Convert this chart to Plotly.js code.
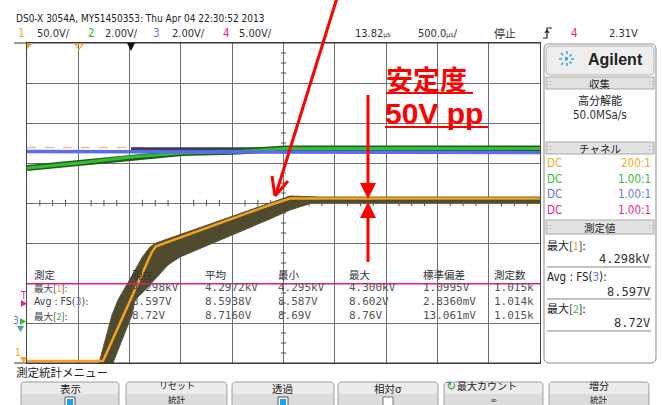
<!DOCTYPE html>
<html><head><meta charset="utf-8">
<script src="https://cdn.plot.ly/plotly-3.0.1.min.js"></script>
<style>html,body{margin:0;padding:0;background:#fff;overflow:hidden}#chart{width:662px;height:405px}</style>
</head><body><div id="chart"></div>
<script>
// ---------------- data (time in µs, vertical position in screen divisions) ----------------
const ch1TimeUs = [-2500, -1759, -1282, -1243, -132, 63, 2500];
const ch1Div    = [-3.95, -3.95, -1.22, -1.08, -0.05, 0.11, 0.11];

const envTimeUs = [-1798, -1672, -1613, -1545, -1369, -1301, -1243, 63, 350, 2500, 2500, 278, 63, -132, -1009, -1126, -1330, -1447, -1477, -1662];
const envDiv    = [-4.0, -2.8, -2.425, -2.125, -1.325, -1.1, -1.0, 0.175, 0.15, 0.15, 0.0, 0.0, -0.175, -0.4, -1.35, -1.55, -2.125, -2.425, -2.8, -4.0];

const ch2TimeUs = [-2500, -1993, -1486, -989, -492, -100, 15, 2500];
const ch2Div    = [0.875, 1.0, 1.15, 1.25, 1.28, 1.33, 1.36, 1.36];

const ch3TimeUs = [-2500, 2500];
const ch3Div    = [1.29, 1.26];
const ch3NoiseTimeUs = [-1486, 356];
const ch3NoiseDiv    = [1.33, 1.33];

const refTimeUs = [-2500, -1370];
const refDiv    = [1.39, 1.39];

const ch4TimeUs = [-2500, 2500];
const ch4Div    = [-2.02, -2.02];

const measHeaders = ["測定", "現在", "平均", "最小", "最大", "標準偏差", "測定数"];
const measLabels  = ["最大[<span style='color:#f5a623'>1</span>]:", "Avg : FS(<span style='color:#6677ee'>3</span>):", "最大[<span style='color:#33bb33'>2</span>]:"];
const measRows = [
  ["4.298kV", "4.2972kV", "4.295kV", "4.300kV", "1.0995V", "1.015k"],
  ["8.597V", "8.5938V", "8.587V", "8.602V", "2.8360mV", "1.014k"],
  ["8.72V", "8.7160V", "8.69V", "8.76V", "13.061mV", "1.015k"]
];
const chanScales = [["1","50.0V/","#f5a623"],["2","2.00V/","#33bb33"],["3","2.00V/","#6677ee"],["4","5.00V/","#ee2288"]];
const probeRows = [["DC","200:1","#f5a623"],["DC","1.00:1","#33bb33"],["DC","1.00:1","#6677ee"],["DC","1.00:1","#ee2288"]];
const panelMeas = [["最大[<span style='color:#f5a623'>1</span>]:","4.298kV"],["Avg : FS(<span style='color:#6677ee'>3</span>):","8.597V"],["最大[<span style='color:#33bb33'>2</span>]:","8.72V"]];
const buttons = [["表示","box"],["<span style='font-size:9px'>リセット</span>","統計"],["透過","box"],["相対σ","empty"],["最大カウント","∞"],["増分","統計"]];

// ---------------- layout helpers ----------------
const L=27, R=540, T=43, B=363;
const fx = x => (x-L)/(R-L);
const fy = y => (B-y)/(B-T);
const conv = s => s.replace(/(-?[\d.]+),(-?[\d.]+)/g,(m,a,b)=>fx(+a).toFixed(5)+','+fy(+b).toFixed(5));
const FUI = "DejaVu Sans Condensed, Liberation Sans, sans-serif";
const FJP = "Noto Sans CJK JP, sans-serif";
const FMONO = "DejaVu Sans Mono, monospace";
const shapes=[], ann=[];
function line(x0,y0,x1,y1,color,width,dash){shapes.push({type:'line',xref:'paper',yref:'paper',x0:fx(x0),y0:fy(y0),x1:fx(x1),y1:fy(y1),line:{color:color,width:width,dash:dash||'solid'}});}
function poly(pts,fill,lc,lw){shapes.push({type:'path',xref:'paper',yref:'paper',path:conv(pts.map((p,i)=>(i?'L':'M')+p[0]+','+p[1]).join(' ')+' Z'),fillcolor:fill,line:{color:lc||fill,width:lw||0}});}
function rrect(x0,y0,x1,y1,r,fill,lc,lw){
  const p=`M${x0+r},${y0} L${x1-r},${y0} Q${x1},${y0} ${x1},${y0+r} L${x1},${y1-r} Q${x1},${y1} ${x1-r},${y1} L${x0+r},${y1} Q${x0},${y1} ${x0},${y1-r} L${x0},${y0+r} Q${x0},${y0} ${x0+r},${y0} Z`;
  shapes.push({type:'path',xref:'paper',yref:'paper',path:conv(p),fillcolor:fill,line:{color:lc,width:lw===undefined?1:lw}});
}
function rect(x0,y0,x1,y1,fill,lc,lw){shapes.push({type:'rect',xref:'paper',yref:'paper',x0:fx(x0),y0:fy(y0),x1:fx(x1),y1:fy(y1),fillcolor:fill,line:{color:lc||fill,width:lw||0}});}
function text(x,y,s,o){o=o||{};ann.push({xref:'paper',yref:'paper',x:fx(x),y:fy(y),text:s,showarrow:false,xanchor:o.a||'left',yanchor:o.ya||'middle',borderpad:0,
  font:{family:o.f||FUI,size:o.s||12,color:o.c||'#222'}});}

// ---------------- header ----------------
text(15,18,"DS0-X 3054A, MY51450353: Thu Apr 04 22:30:52 2013",{s:10,c:'#222'});
const scaleX=[[17,36],[87,104],[152,171],[222,238]];
chanScales.forEach((c,i)=>{text(scaleX[i][0],33,c[0],{s:11.5,c:c[2]});text(scaleX[i][1],33,c[1],{s:11,c:'#333'});});
text(354,33,"13.82<span style='font-size:7px'>µs</span>",{s:11,c:'#333'});
text(417,33,"500.0<span style='font-size:7px'>µs</span>/",{s:11,c:'#333'});
text(493,33,"停止",{s:11,f:FJP,c:'#333'});
shapes.push({type:'path',xref:'paper',yref:'paper',path:conv('M543,38 L547,38 L547,28 L552,28 M545,33 L547,30 L549,33'),line:{color:'#222',width:1.2}});
text(570,33,"4",{s:11.5,c:'#ee2288'});
text(608,33,"2.31V",{s:11,c:'#333'});
line(14,43,540,43,'#333',1);
line(14,363,540,363,'#333',1);

// top markers
poly([[27,43],[33,43],[27,49]],'#f59a20');
shapes.push({type:'path',xref:'paper',yref:'paper',path:conv('M75,44 L83,44 L79,49 Z'),fillcolor:'rgba(0,0,0,0)',line:{color:'#f59a20',width:1.2}});
poly([[127,43],[135,43],[131,51]],'#111');

// left markers
text(23,295,"T",{s:10,c:'#ee2288',a:'center'});
poly([[21,300],[21,307],[27,303.5]],'#ee2288');
text(16,320,"3",{s:10,c:'#6677ee',a:'center'});
poly([[20,318],[20,325],[26,321.5]],'#33bb33');
poly([[17,326],[24,326],[20.5,332]],'#4aa0a0');
text(18,352,"1",{s:10,c:'#f5a623',a:'center'});
poly([[20,357],[27,357],[23.5,363]],'#f5a623');

// minor ticks on centre lines
for(let t=-2375;t<=2375;t+=125){ if(t%500!==0) shapes.push({type:'line',xref:'x',yref:'y',layer:'between',x0:t,x1:t,y0:-0.08,y1:0.08,line:{color:'#555',width:1}}); }
for(let d=-3.75;d<=3.75;d+=0.25){ if(d%1!==0) shapes.push({type:'line',xref:'x',yref:'y',layer:'between',x0:-25,x1:25,y0:d,y1:d,line:{color:'#555',width:1}}); }

// measurement table overlay
const colX=[33,131,204,277,348,422,493];
measHeaders.forEach((h,i)=>text(colX[i],274,h,{f:FJP,s:10.5,c:'#333'}));
const rowY=[287.5,301,315.5];
measLabels.forEach((l,r)=>{text(33,rowY[r],l,{f:(r===1?FUI:FJP),s:(r===1?10.5:9.5),c:'#444'});
  measRows[r].forEach((v,i)=>text(colX[i+1],rowY[r],v,{f:FMONO,s:11,c:'#555'}));});

// ---------------- right panel ----------------
rrect(544,44,656,363,5,'#ffffff','#8c8c8c',1);
rrect(546,46,654,75,4,'#eeeeee','#b0b0b0',1);
line(559,59,575,59,'#38a8d8',1.5,'dot');line(567,51,567,67,'#38a8d8',1.5,'dot');
line(561,53,573,65,'#38a8d8',1.5,'dot');line(561,65,573,53,'#38a8d8',1.5,'dot');
text(587,59,"<b>Agilent</b>",{f:"Liberation Sans, Arial, sans-serif",s:16,c:'#222'});
function bar(y0,y1,label){rect(546,y0,654,y1,'#e2e2e2','#a8a8a8',1);text(600,(y0+y1)/2,label,{f:FJP,s:10.5,a:'center',c:'#222'});
  text(549,(y0+y1)/2,"∷",{s:8,c:'#999',a:'center'});text(651,(y0+y1)/2,"∷",{s:8,c:'#999',a:'center'});}
bar(77,89,"収集");
text(600,100,"高分解能",{f:FJP,s:11,a:'center'});
text(600,115,"50.0MSa/s",{s:11.5,a:'center',c:'#333'});
bar(142,154,"チャネル");
const probeY=[163,178.5,194,209.5];
probeRows.forEach((p,i)=>{text(546,probeY[i],p[0],{s:11.5,c:p[2]});text(652,probeY[i],p[1],{s:11.5,c:p[2],a:'right'});});
bar(220,234,"測定値");
const pmY=[[245,259,267],[277,292,299],[308,323,331]];
panelMeas.forEach((m,i)=>{text(546,pmY[i][0],m[0],{f:(i===1?FUI:FJP),s:(i===1?11.5:11),c:'#222'});text(651,pmY[i][1],m[1],{f:FMONO,s:12,c:'#333',a:'right'});line(547,pmY[i][2],651,pmY[i][2],'#888',1);});

// ---------------- bottom menu ----------------
text(15,372,"測定統計メニュー",{f:FJP,s:11.5,c:'#222'});
const btnX=[[21,119],[126,227],[232,334],[338,438],[444,543],[549,649]];
buttons.forEach((b,i)=>{const x0=btnX[i][0],x1=btnX[i][1],cx=(x0+x1)/2;
  const two = !(b[1]==='box'||b[1]==='empty');
  const ly = two ? 385.5 : 388, ls = two ? 10 : 10.5;
  rrect(x0,382,x1,414,4,'#dcdcdc','#a5a5a5',1);
  rect(x0+1,383,x1-1,394,'#ececec');
  if(i===4){text(451,ly,"↻",{s:12,c:'#2a9a2a',a:'center',f:"DejaVu Sans"});text(456,ly,b[0],{f:FJP,s:ls,c:'#222'});}
  else text(cx,ly,b[0],{f:FJP,s:ls,c:'#222',a:'center'});
  if(b[1]==='box'){rect(cx-5,397,cx+5,407,'#ffffff','#555',1);rect(cx-3,399,cx+3,407,'#1aa3e8');}
  else if(b[1]==='empty'){rect(cx-5,397,cx+5,407,'#ffffff','#777',1);}
  else text(cx,405.5,b[1],{f:(b[1]==='∞'?"DejaVu Sans":FJP),s:8.5,c:'#222',a:'center',ya:'bottom'});
});

// ---------------- red annotations ----------------
text(385,78,"<b>安定度</b>",{f:FJP,s:27,c:'#ff0000'});
line(386,93,473,93,'#ff0000',2);
text(384,113,"<b>50V pp</b>",{f:"Liberation Sans, Arial, sans-serif",s:30,c:'#ff0000'});
line(385,127,488,127,'#ff0000',2);
line(337,-2,276,194,'#ff0000',3);
line(275,196,288,181,'#ff0000',3);
line(275,196,272,176,'#ff0000',3);
line(368,95,368,186,'#ff0000',3);
poly([[360,183],[376,183],[368,199]],'#ff0000');
line(368,214,368,262,'#ff0000',3);
poly([[360,218],[376,218],[368,202]],'#ff0000');

// ---------------- traces ----------------
const traces=[
 {x:envTimeUs,y:envDiv,type:'scatter',mode:'lines',fill:'toself',fillcolor:'#4f4b2e',line:{color:'#5c583c',width:1},hoverinfo:'skip'},
 {x:refTimeUs,y:refDiv,type:'scatter',mode:'lines',line:{color:'#f2c08a',width:1.5,dash:'dash'}},
 {x:ch3NoiseTimeUs,y:ch3NoiseDiv,type:'scatter',mode:'lines',line:{color:'#3d3a62',width:5}},
 {x:ch2TimeUs,y:ch2Div,type:'scatter',mode:'lines',line:{color:'#225a22',width:6}},
 {x:ch2TimeUs,y:ch2Div,type:'scatter',mode:'lines',line:{color:'#2fc02f',width:3}},
 {x:ch3TimeUs,y:ch3Div,type:'scatter',mode:'lines',line:{color:'#5b6cf0',width:3.5}},
 {x:ch1TimeUs,y:ch1Div,type:'scatter',mode:'lines',line:{color:'#f7a01e',width:2.5}},
 {x:ch4TimeUs,y:ch4Div,type:'scatter',mode:'lines',line:{color:'#ef1682',width:1.5}}
];
const ax={showgrid:true,gridcolor:'#707070',gridwidth:1,zeroline:false,showticklabels:false,ticks:'',showline:true,mirror:true,linecolor:'#444',linewidth:1,fixedrange:true};
const layout={width:662,height:405,margin:{l:27,r:122,t:43,b:42,pad:0},paper_bgcolor:'#fff',plot_bgcolor:'#fff',showlegend:false,
  xaxis:Object.assign({range:[-2500,2500],dtick:500,tick0:0},ax),
  yaxis:Object.assign({range:[-4,4],dtick:1,tick0:0},ax),
  shapes:shapes,annotations:ann};
Plotly.newPlot('chart',traces,layout,{staticPlot:true,displayModeBar:false});
</script></body></html>
